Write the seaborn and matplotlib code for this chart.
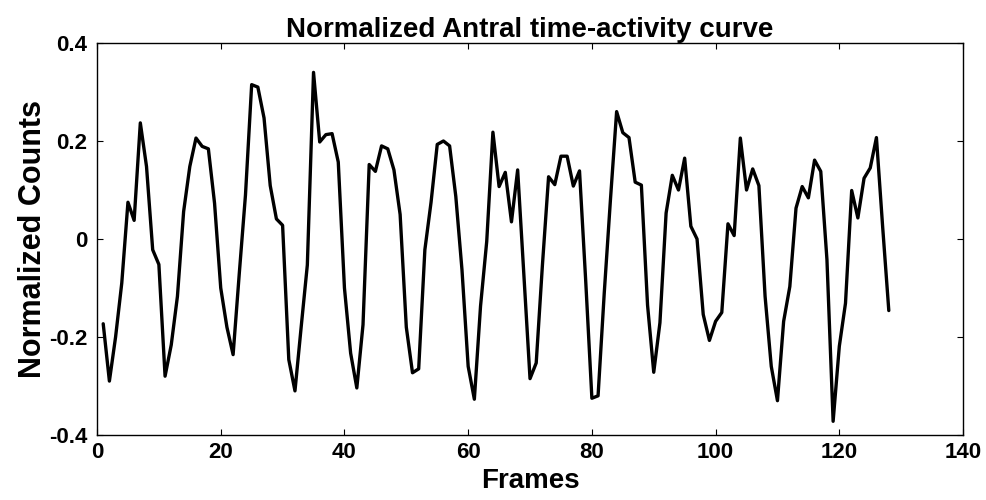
import matplotlib
matplotlib.use("Agg")
import matplotlib.pyplot as plt
import numpy as np
import pandas as pd
import seaborn as sns

# Data
frames = list(range(1, 129))
counts = [
    -0.173, -0.290, -0.200, -0.090, 0.075, 0.038, 0.237, 0.148, -0.022, -0.052,   # 1-10
    -0.280, -0.216, -0.117, 0.056, 0.148, 0.206, 0.189, 0.184, 0.073, -0.100,     # 11-20
    -0.180, -0.236, -0.070, 0.090, 0.315, 0.310, 0.247, 0.109, 0.041, 0.028,      # 21-30
    -0.246, -0.310, -0.180, -0.053, 0.340, 0.198, 0.213, 0.215, 0.157, -0.100,    # 31-40
    -0.233, -0.304, -0.175, 0.152, 0.138, 0.190, 0.184, 0.141, 0.050, -0.180,     # 41-50
    -0.273, -0.265, -0.022, 0.075, 0.193, 0.200, 0.190, 0.087, -0.063, -0.260,    # 51-60
    -0.327, -0.137, -0.005, 0.218, 0.107, 0.136, 0.035, 0.141, -0.072, -0.285,    # 61-70
    -0.253, -0.054, 0.127, 0.111, 0.169, 0.169, 0.108, 0.139, -0.085, -0.325,     # 71-80
    -0.320, -0.110, 0.080, 0.260, 0.217, 0.207, 0.116, 0.110, -0.135, -0.272,     # 81-90
    -0.171, 0.053, 0.130, 0.100, 0.165, 0.026, 0.000, -0.154, -0.207, -0.168,     # 91-100
    -0.150, 0.031, 0.007, 0.206, 0.100, 0.143, 0.109, -0.117, -0.260, -0.330,     # 101-110
    -0.168, -0.097, 0.063, 0.107, 0.084, 0.161, 0.138, -0.042, -0.372, -0.219,    # 111-120
    -0.131, 0.099, 0.043, 0.124, 0.145, 0.207, 0.026, -0.146,                     # 121-128
]
x_ticks = [0, 20, 40, 60, 80, 100, 120, 140]
y_ticks = [-0.4, -0.2, 0, 0.2, 0.4]
y_tick_labels = ["-0.4", "-0.2", "0", "0.2", "0.4"]
title = "Normalized Antral time-activity curve"
x_label = "Frames"
y_label = "Normalized Counts"

sns.set_style("ticks")
plt.rcParams['font.family'] = ['Liberation Sans', 'DejaVu Sans']
plt.rcParams['font.weight'] = 'bold'
plt.rcParams['text.color'] = 'black'
plt.rcParams['axes.labelcolor'] = 'black'
plt.rcParams['xtick.color'] = 'black'
plt.rcParams['ytick.color'] = 'black'

df = pd.DataFrame({"Frames": frames, "Counts": counts})

fig = plt.figure(figsize=(9.86, 5.0), dpi=100)
ax = fig.add_axes([0.0984, 0.13, 0.8783, 0.784])
sns.lineplot(data=df, x="Frames", y="Counts", ax=ax, color="black",
             linewidth=2.4, errorbar=None)

ax.set_xlim(0, 140)
ax.set_ylim(-0.4, 0.4)
ax.set_xticks(x_ticks)
ax.set_xticklabels([str(t) for t in x_ticks])
ax.set_yticks(y_ticks)
ax.set_yticklabels(y_tick_labels)
ax.tick_params(direction='in', length=4, width=0.8, top=True, right=True,
               labelsize=16, colors='black')
ax.tick_params(axis='x', pad=5)
ax.tick_params(axis='y', pad=7)
for lab in ax.get_xticklabels() + ax.get_yticklabels():
    lab.set_fontweight('bold')
for s in ax.spines.values():
    s.set_visible(True)
    s.set_color('black')
    s.set_linewidth(1.0)

ax.set_title(title, fontsize=20, fontweight='bold', pad=4, color='black')
ax.set_xlabel(x_label, fontsize=20, fontweight='bold', labelpad=4)
ax.set_ylabel(y_label, fontsize=22, fontweight='bold', labelpad=1)

fig.savefig("out.png", dpi=100, facecolor='white')
